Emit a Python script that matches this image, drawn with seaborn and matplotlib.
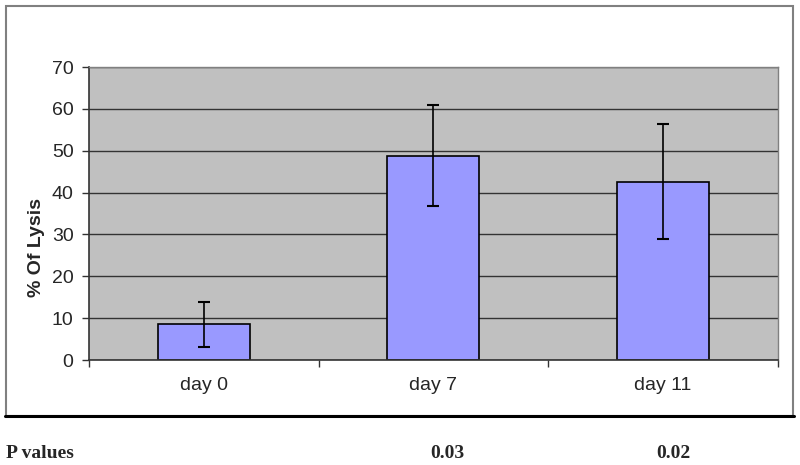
import matplotlib
matplotlib.use('Agg')
import matplotlib.pyplot as plt
import seaborn as sns
import pandas as pd
from matplotlib.patches import Rectangle
from matplotlib.lines import Line2D

# values
days = ['day 0', 'day 7', 'day 11']
lysis = [8.5, 48.8, 42.6]
lysis_err = [5.4, 12.1, 13.8]
p_labels = ['', '0.03', '0.02']

df = pd.DataFrame({'Day': days, 'Lysis': lysis})

sns.set_style('white')
plt.rcParams['font.family'] = ['Liberation Sans', 'DejaVu Sans']

fig = plt.figure(figsize=(8, 4.65), dpi=100)
ax = fig.add_axes([0.111, 0.2258, 0.8615, 0.6301])

sns.barplot(x='Day', y='Lysis', data=df, ax=ax, color='#9999FF',
            edgecolor='black', linewidth=1.2, width=0.4, saturation=1,
            errorbar=None)
ax.errorbar(range(len(days)), lysis, yerr=lysis_err, fmt='none',
            ecolor='black', elinewidth=1.2, capsize=4, capthick=1.5)

ax.set_facecolor('#C0C0C0')
ax.set_ylim(0, 70)
ax.set_xlim(-0.5, 2.5)
ax.set_yticks(range(0, 71, 10))
ax.yaxis.grid(True, color='#333333', linewidth=1)
ax.set_axisbelow(True)

for side in ['top', 'right']:
    ax.spines[side].set_color('#808080')
    ax.spines[side].set_linewidth(1)
for side in ['left', 'bottom']:
    ax.spines[side].set_color('#333333')
    ax.spines[side].set_linewidth(1.2)

ax.tick_params(axis='y', direction='out', length=5, width=1, color='#333333',
               labelsize=14, pad=6, left=True)
ax.tick_params(axis='x', which='major', length=0, labelsize=14, pad=12)
ax.set_xticks([-0.5, 0.5, 1.5, 2.5], minor=True)
ax.tick_params(axis='x', which='minor', direction='out', length=5, width=1,
               color='#333333', bottom=True)

ax.set_xlabel('')
ax.set_ylabel('% Of Lysis', fontsize=14, fontweight='bold')
ax.yaxis.set_label_coords(-0.063, 0.385)

# outer chart frame
fig.patches.append(Rectangle((6 / 800, 1 - 416 / 465), 787 / 800, 410 / 465,
                             transform=fig.transFigure, fill=False,
                             edgecolor='#808080', linewidth=1.5))
fig.lines.append(Line2D([5 / 800, 794 / 800], [1 - 416 / 465, 1 - 416 / 465],
                        transform=fig.transFigure, color='black', linewidth=2.2))

# p value row
fig.text(6 / 800, 12 / 465, 'P values', family=['Liberation Serif', 'DejaVu Serif'],
         fontsize=14, fontweight='bold', ha='left', va='center')
for x_px, lab in zip([220, 447, 673], p_labels):
    if lab:
        fig.text(x_px / 800, 12 / 465, lab, family=['Liberation Serif', 'DejaVu Serif'],
                 fontsize=14, fontweight='bold', ha='center', va='center')

fig.savefig('out.png', dpi=100)
